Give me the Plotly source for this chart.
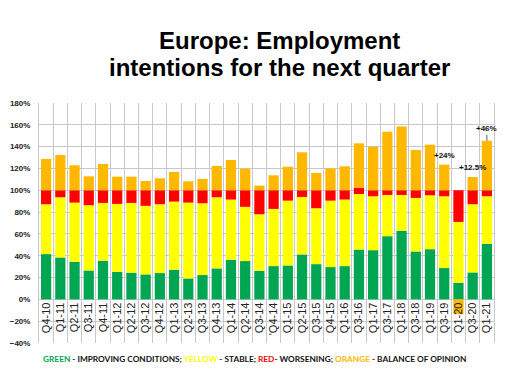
import plotly.graph_objects as go

categories = ["Q4-10", "Q1-11", "Q2-11", "Q3-11", "Q4-11", "Q1-12", "Q2-12", "Q3-12", "Q4-12",
              "Q1-13", "Q2-13", "Q3-13", "Q4-13", "Q1-14", "Q2-14", "Q3-14", "'Q4-14", "Q1-15",
              "Q2-15", "Q3-15", "Q4-15", "Q1-16", "Q3-16", "Q1-17", "Q3-17", "Q1-18", "Q3-18",
              "Q1-19", "Q3-19", "Q1-20", "Q3-20", "Q1-21"]

improving = [41.5, 38.4, 34.5, 26.5, 35.4, 25.3, 24.4, 22.9, 24.1, 27.1, 19.2, 22.3, 28.4, 36.3,
             35.1, 26.2, 30.5, 31.1, 41.2, 32.3, 29.6, 30.5, 45.7, 45.1, 57.9, 62.8, 43.9, 46.0,
             28.7, 15.2, 24.7, 50.9]
stable = [45.7, 55.2, 54.2, 59.8, 53.0, 62.2, 64.0, 62.8, 63.1, 62.5, 69.5, 65.8, 65.2, 55.2,
          49.7, 51.8, 52.4, 59.4, 52.7, 51.2, 60.9, 61.0, 50.9, 49.4, 37.8, 32.9, 49.1, 49.4,
          65.8, 55.8, 62.5, 43.6]
worsening = [12.8, 6.4, 11.3, 13.7, 11.6, 12.5, 11.6, 14.3, 12.8, 10.4, 11.3, 11.9, 6.4, 8.5,
             15.2, 22.0, 17.1, 9.5, 6.1, 16.5, 9.5, 8.5, 5.8, 5.5, 4.3, 4.3, 7.0, 4.6,
             5.5, 29.0, 12.8, 5.5]
balance = [28.7, 32.3, 22.9, 12.8, 24.1, 12.5, 12.5, 8.5, 11.0, 16.8, 8.2, 10.4, 22.3, 27.7,
           19.8, 4.3, 13.7, 21.6, 34.8, 15.9, 20.1, 22.0, 40.6, 39.9, 53.7, 58.5, 36.9, 41.8,
           23.5, -13.5, 12.2, 45.4]

label_cats = ["Q3-19", "Q3-20", "Q1-21"]
label_texts = ["+24%", "+12.5%", "+46%"]

title_lines = ["Europe: Employment", "intentions for the next quarter"]

GREEN = "#00A651"
YELLOW = "#FFFF00"
RED = "#FF0000"
ORANGE = "#FFB800"

fig = go.Figure()
for name, vals, col in [("Improving", improving, GREEN), ("Stable", stable, YELLOW),
                        ("Worsening", worsening, RED), ("Balance", balance, ORANGE)]:
    fig.add_trace(go.Bar(x=categories, y=vals, name=name, marker=dict(color=col, line=dict(width=0)),
                         width=0.72))

idx = {c: i for i, c in enumerate(categories)}
for c, t in zip(label_cats, label_texts):
    i = idx[c]
    top = improving[i] + stable[i] + worsening[i] + max(balance[i], 0)
    if c == "Q1-21":
        fig.add_annotation(x=c, y=top, text="<b>%s</b>" % t, showarrow=True, arrowhead=0,
                           arrowwidth=0.8, arrowcolor="#333", ax=0, ay=-6, standoff=0,
                           font=dict(family="Liberation Sans", size=8, color="#111"),
                           yanchor="bottom")
    else:
        fig.add_annotation(x=c, y=top, text="<b>%s</b>" % t, showarrow=False, yanchor="bottom",
                           yshift=3, font=dict(family="Liberation Sans", size=8, color="#111"))

PL, PT = 31, 95  # plot-area origin inside the figure (page adds an 8px body margin)
PW = 455

for line, shift in zip(title_lines, [63, 36]):
    fig.add_annotation(xref="paper", yref="paper", x=(279 - 8 - PL) / PW, y=1.0, yshift=shift,
                       yanchor="middle", text="<b>%s</b>" % line, showarrow=False,
                       font=dict(family="Liberation Sans", size=24, color="#000"))

legend_txt = ("<b><span style='color:#00A651'>GREEN</span> - IMPROVING CONDITIONS; "
              "<span style='color:#FFFF00'>YELLOW</span> - STABLE; "
              "<span style='color:#FF0000'>RED</span>- WORSENING; "
              "<span style='color:#FFB800'>ORANGE</span> - BALANCE OF OPINION</b>")
fig.add_annotation(xref="paper", yref="paper", x=(254 - 8 - PL) / PW, y=0, yshift=-16,
                   yanchor="middle", text=legend_txt, showarrow=False,
                   font=dict(family="Lato", size=8.3, color="#111"))

fig.update_layout(
    barmode="relative",
    width=494, height=366,
    margin=dict(l=PL, r=8, t=PT, b=31),
    paper_bgcolor="white", plot_bgcolor="white",
    showlegend=False,
)
fig.update_xaxes(
    type="category", tickson="boundaries", showgrid=True, gridcolor="#C8C8C8", gridwidth=1,
    anchor="free", position=40 / 220, ticks="", tickangle=-90, automargin=False,
    tickfont=dict(family="Liberation Sans", size=11, color="#222"),
    showline=False, zeroline=False, range=[-0.5, len(categories) - 0.5],
)
fig.update_yaxes(
    range=[-40, 180], dtick=20, ticksuffix="%", showgrid=True, gridcolor="#C8C8C8", gridwidth=1,
    zeroline=True, zerolinecolor="#C8C8C8", zerolinewidth=1, automargin=False,
    showline=True, mirror=True, linecolor="#C8C8C8", linewidth=1,
    ticks="outside", ticklen=6, tickcolor="rgba(0,0,0,0)",
    tickfont=dict(family="Liberation Sans", size=8, color="#222", weight="bold"),
)

fig.write_html("out.html")
